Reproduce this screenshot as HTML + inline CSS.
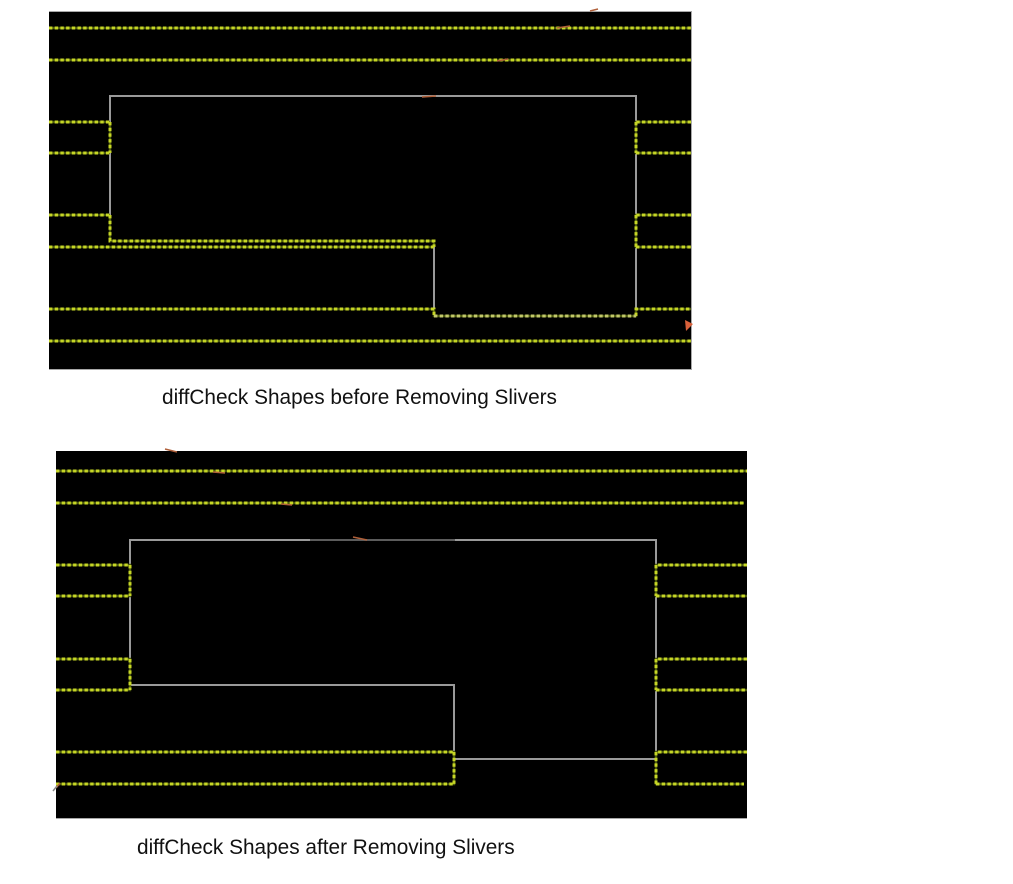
<!DOCTYPE html>
<html>
<head>
<meta charset="utf-8">
<style>
html,body{margin:0;padding:0;background:#fff;width:1013px;height:884px;overflow:hidden}
svg{display:block}
text{font-family:"Liberation Sans",sans-serif;font-size:20.8px;fill:#111}
.u{fill:none;stroke:#4c5a0e;stroke-width:2.4}
.y{fill:none;stroke:#c6d626;stroke-width:3;stroke-dasharray:3.4 2.3;filter:blur(.35px)}
.p{fill:none;stroke:#c2c86a;stroke-width:3;stroke-dasharray:3.4 2.3;filter:blur(.35px)}
.g{fill:none;stroke:#9a9a9a;stroke-width:2}
.d{fill:none;stroke:#5c5c5c;stroke-width:2}
.e{fill:none;stroke:#a8a8a8;stroke-width:1}
.o{fill:none;stroke:#b0603a;stroke-width:1.5}
</style>
</head>
<body>
<svg width="1013" height="884" viewBox="0 0 1013 884" xmlns="http://www.w3.org/2000/svg">
<rect x="49" y="11" width="642" height="359" fill="#000"/>
<path class="e" d="M49 11.500H691.500V370M49 369.500H691"/>
<path class="g" d="M110 241V96H636V316M434 241V316"/>
<path class="u" d="M49 28H691M49 60H691M49 122H110M49 153H110M110 122V153M49 215H110M110 215V241H434V247M49 247H434M49 309H434V316H636V309H691M49 341H691M691 122H636V153H691M691 215H636V247H691"/>
<path class="y" d="M49 28H691M49 60H691M49 122H110M49 153H110M110 122V153M49 215H110M110 215V241H434V247M49 247H434M49 309H434V316M636 316V309H691M49 341H691M691 122H636M636 122V153M636 153H691M691 215H636M636 215V247M636 247H691"/>
<path class="p" d="M434 316H636"/>
<path class="o" d="M590 11L598 9M422 97L436 96M497 61L508 59M557 28L570 26"/>
<path d="M685 320L693 324L686 331Z" fill="#d8603a"/>
<text x="162" y="404">diffCheck Shapes before Removing Slivers</text>

<rect x="56" y="451" width="691" height="368" fill="#000"/>
<path class="e" d="M56 818.500H747"/>
<path class="g" d="M130 685V540H310M455 540H656V759H454M130 685H454V752"/>
<path class="d" d="M310 540H455"/>
<path class="u" d="M56 471H747M56 503H744M56 565H130V596H56M56 659H130V690H56M56 752H454V784H56M747 565H656V596H747M747 659H656V690H747M747 752H656V784H744"/>
<path class="y" d="M56 471H747M56 503H744M56 565H130M130 565V596M56 596H130M56 659H130M130 659V690M56 690H130M56 752H454M454 752V784M56 784H454M747 565H656M656 565V596M656 596H747M747 659H656M656 659V690M656 690H747M747 752H656M656 752V784M656 784H744"/>
<path class="o" d="M165 449L177 452M353 537L367 540M281 504L292 505M213 472L225 473M60 783L56 788"/>
<path d="M53 791L57 786" fill="none" stroke="#888" stroke-width="1.5"/>
<text x="137" y="854">diffCheck Shapes after Removing Slivers</text>
</svg>
</body>
</html>
